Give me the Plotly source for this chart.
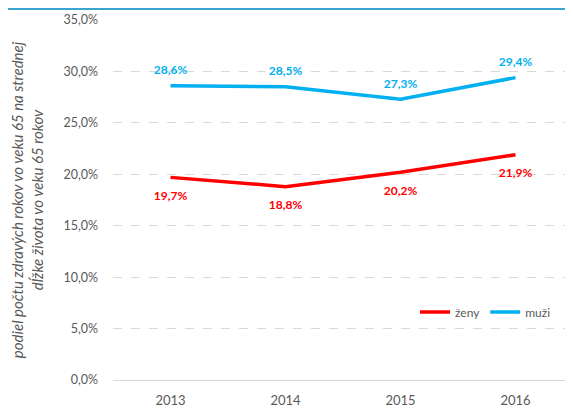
import plotly.graph_objects as go

years = ["2013", "2014", "2015", "2016"]
zeny = [19.7, 18.8, 20.2, 21.9]
muzi = [28.6, 28.5, 27.3, 29.4]
y_ticks = [0, 5, 10, 15, 20, 25, 30, 35]

def lab(v):
    return f"{v:.1f}".replace(".", ",") + "%"

RED = "#FF0000"
BLUE = "#00B0F0"
FONT = "Lato"
OFF = 8  # default page body margin
W, H = 573 - OFF, 408 - OFF
PL, PR, PT, PB = 113 - OFF, 573 - OFF, 20 - OFF, 380 - OFF  # plot area in figure pixels

fig = go.Figure()
fig.add_trace(go.Scatter(
    x=years, y=zeny, name="ženy", mode="lines",
    line=dict(color=RED, width=3.5),
))
fig.add_trace(go.Scatter(
    x=years, y=muzi, name="muži", mode="lines",
    line=dict(color=BLUE, width=3.5),
))
# data labels
fig.add_trace(go.Scatter(
    x=years, y=zeny, mode="markers+text", showlegend=False, hoverinfo="skip",
    marker=dict(size=20, color="rgba(0,0,0,0)"),
    text=[lab(v) for v in zeny], textposition="bottom center",
    textfont=dict(color=RED, size=12, family=FONT, weight="bold"), cliponaxis=False,
))
fig.add_trace(go.Scatter(
    x=years, y=muzi, mode="markers+text", showlegend=False, hoverinfo="skip",
    marker=dict(size=12, color="rgba(0,0,0,0)"),
    text=[lab(v) for v in muzi], textposition="top center",
    textfont=dict(color=BLUE, size=12, family=FONT, weight="bold"), cliponaxis=False,
))

fig.update_layout(
    width=W, height=H,
    margin=dict(l=0, r=0, t=0, b=0),
    paper_bgcolor="white", plot_bgcolor="white",
    font=dict(family=FONT, size=13, color="#595959"),
    separators=", ",
    showlegend=True,
    legend=dict(orientation="h", x=(415 - OFF) / W, y=(H - (312 - OFF)) / H,
                xanchor="left", yanchor="middle",
                font=dict(size=12, color="#595959"), bgcolor="rgba(0,0,0,0)",
                itemwidth=30, tracegroupgap=0),
    xaxis=dict(type="category", range=[-0.5, 3.5], domain=[PL / W, PR / W],
               showgrid=False, showline=True, linecolor="#D9D9D9", linewidth=1,
               ticks="", ticklabelstandoff=8, automargin=False,
               tickfont=dict(size=13, color="#595959")),
    yaxis=dict(range=[0, 35], domain=[(H - PB) / H, (H - PT) / H],
               tickvals=y_ticks, ticktext=[lab(v) for v in y_ticks],
               showgrid=True, gridcolor="#D9D9D9", griddash="dash", gridwidth=1,
               zeroline=False,
               showline=False, ticks="", ticklabelstandoff=14, automargin=False,
               tickfont=dict(size=12.5, color="#595959"),
               title=dict(text="<i>podiel počtu zdravých rokov vo veku 65 na strednej<br>dĺžke života vo veku 65 rokov</i>",
                          font=dict(size=15, color="#595959"), standoff=16)),
    shapes=[dict(type="line", xref="paper", yref="paper", layer="above",
                 x0=0, x1=1, y0=(H - 1) / H, y1=(H - 1) / H,
                 line=dict(color="#3AA6CF", width=2))],
)

fig.write_html("out.html", config={"displayModeBar": False})
